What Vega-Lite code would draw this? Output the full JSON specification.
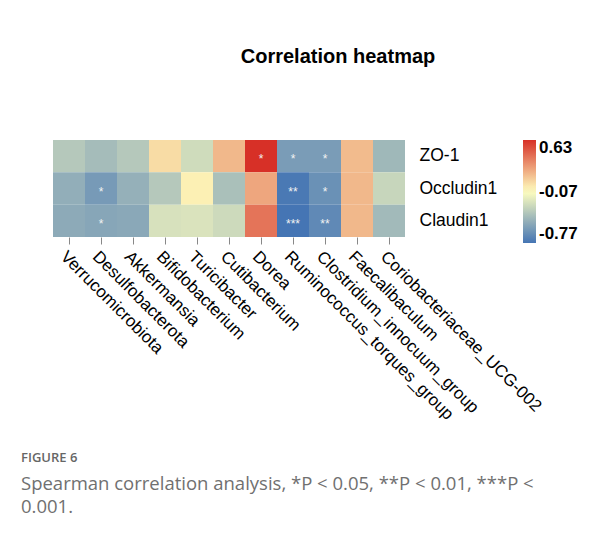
{
  "$schema": "https://vega.github.io/schema/vega-lite/v6.json",
  "background": "white",
  "padding": {"left": 21, "top": 47, "right": 5, "bottom": 5},
  "title": {
    "text": "FIGURE 6",
    "subtitle": ["Spearman correlation analysis, *P < 0.05, **P < 0.01, ***P <", "0.001."],
    "orient": "bottom",
    "anchor": "start",
    "frame": "bounds",
    "font": "Open Sans",
    "fontSize": 13,
    "fontWeight": 600,
    "color": "#666666",
    "subtitleFont": "Open Sans",
    "subtitleFontSize": 18.5,
    "subtitleColor": "#707070",
    "subtitleLineHeight": 23,
    "subtitlePadding": 10,
    "offset": 30,
    "dx": -32
  },
  "datasets": {
    "cor": [
      {"taxon": "Verrucomicrobiota", "gene": "ZO-1", "r": -0.35, "sig": ""},
      {"taxon": "Verrucomicrobiota", "gene": "Occludin1", "r": -0.48, "sig": ""},
      {"taxon": "Verrucomicrobiota", "gene": "Claudin1", "r": -0.50, "sig": ""},
      {"taxon": "Desulfobacterota", "gene": "ZO-1", "r": -0.41, "sig": ""},
      {"taxon": "Desulfobacterota", "gene": "Occludin1", "r": -0.58, "sig": "*"},
      {"taxon": "Desulfobacterota", "gene": "Claudin1", "r": -0.52, "sig": "*"},
      {"taxon": "Akkermansia", "gene": "ZO-1", "r": -0.35, "sig": ""},
      {"taxon": "Akkermansia", "gene": "Occludin1", "r": -0.47, "sig": ""},
      {"taxon": "Akkermansia", "gene": "Claudin1", "r": -0.51, "sig": ""},
      {"taxon": "Bifidobacterium", "gene": "ZO-1", "r": 0.05, "sig": ""},
      {"taxon": "Bifidobacterium", "gene": "Occludin1", "r": -0.35, "sig": ""},
      {"taxon": "Bifidobacterium", "gene": "Claudin1", "r": -0.22, "sig": ""},
      {"taxon": "Turicibacter", "gene": "ZO-1", "r": -0.25, "sig": ""},
      {"taxon": "Turicibacter", "gene": "Occludin1", "r": -0.02, "sig": ""},
      {"taxon": "Turicibacter", "gene": "Claudin1", "r": -0.21, "sig": ""},
      {"taxon": "Cutibacterium", "gene": "ZO-1", "r": 0.17, "sig": ""},
      {"taxon": "Cutibacterium", "gene": "Occludin1", "r": -0.39, "sig": ""},
      {"taxon": "Cutibacterium", "gene": "Claudin1", "r": -0.26, "sig": ""},
      {"taxon": "Dorea", "gene": "ZO-1", "r": 0.63, "sig": "*"},
      {"taxon": "Dorea", "gene": "Occludin1", "r": 0.23, "sig": ""},
      {"taxon": "Dorea", "gene": "Claudin1", "r": 0.40, "sig": ""},
      {"taxon": "Ruminococcus_torques_group", "gene": "ZO-1", "r": -0.57, "sig": "*"},
      {"taxon": "Ruminococcus_torques_group", "gene": "Occludin1", "r": -0.75, "sig": "**"},
      {"taxon": "Ruminococcus_torques_group", "gene": "Claudin1", "r": -0.77, "sig": "***"},
      {"taxon": "Clostridium_innocuum_group", "gene": "ZO-1", "r": -0.57, "sig": "*"},
      {"taxon": "Clostridium_innocuum_group", "gene": "Occludin1", "r": -0.63, "sig": "*"},
      {"taxon": "Clostridium_innocuum_group", "gene": "Claudin1", "r": -0.67, "sig": "**"},
      {"taxon": "Faecalibaculum", "gene": "ZO-1", "r": 0.16, "sig": ""},
      {"taxon": "Faecalibaculum", "gene": "Occludin1", "r": 0.17, "sig": ""},
      {"taxon": "Faecalibaculum", "gene": "Claudin1", "r": 0.17, "sig": ""},
      {"taxon": "Coriobacteriaceae_UCG-002", "gene": "ZO-1", "r": -0.43, "sig": ""},
      {"taxon": "Coriobacteriaceae_UCG-002", "gene": "Occludin1", "r": -0.28, "sig": ""},
      {"taxon": "Coriobacteriaceae_UCG-002", "gene": "Claudin1", "r": -0.42, "sig": ""}
    ]
  },
  "vconcat": [
    {
      "width": 352,
      "height": 97,
      "title": {
        "text": "Correlation heatmap",
        "font": "Liberation Sans",
        "fontSize": 20,
        "fontWeight": "bold",
        "color": "black",
        "anchor": "middle",
        "frame": "group",
        "dx": 109,
        "offset": 73
      },
      "data": {"name": "cor"},
      "encoding": {
        "x": {
          "field": "taxon",
          "type": "nominal",
          "sort": ["Verrucomicrobiota", "Desulfobacterota", "Akkermansia", "Bifidobacterium", "Turicibacter", "Cutibacterium", "Dorea", "Ruminococcus_torques_group", "Clostridium_innocuum_group", "Faecalibaculum", "Coriobacteriaceae_UCG-002"],
          "axis": {
            "orient": "bottom",
            "title": null,
            "labelAngle": 45,
            "labelAlign": "left",
            "labelBaseline": "top",
            "labelFont": "Liberation Sans",
            "labelFontSize": 17,
            "labelColor": "black",
            "labelLimit": 0,
            "labelOverlap": false,
            "labelPadding": 4,
            "tickColor": "#888888",
            "tickSize": 7,
            "domain": false
          }
        },
        "y": {
          "field": "gene",
          "type": "nominal",
          "sort": ["ZO-1", "Occludin1", "Claudin1"],
          "axis": {
            "orient": "right",
            "title": null,
            "ticks": false,
            "domain": false,
            "labelPadding": 14,
            "labelFont": "Liberation Sans",
            "labelFontSize": 17.5,
            "labelColor": "black"
          }
        }
      },
      "layer": [
        {
          "mark": {"type": "rect"},
          "encoding": {
            "color": {
              "field": "r",
              "type": "quantitative",
              "scale": {
                "domain": [-0.77, -0.07, 0.63],
                "range": ["#4575b4", "#ffffbf", "#d73027"],
                "interpolate": "rgb"
              },
              "legend": {
                "orient": "none",
                "legendX": 470,
                "legendY": 0,
                "title": null,
                "values": [-0.77, -0.07, 0.63],
                "labelExpr": "replace(format(datum.value, '.2f'), '\u2212', '-')",
                "gradientLength": 103,
                "gradientThickness": 13,
                "gradientStrokeWidth": 0,
                "labelFont": "Liberation Sans",
                "labelFontSize": 17,
                "labelFontWeight": "bold",
                "labelColor": "black",
                "labelOffset": 3
              }
            }
          }
        },
        {
          "mark": {"type": "text", "color": "#f2f2f2", "font": "Liberation Sans", "fontSize": 12, "baseline": "middle", "dy": 3},
          "encoding": {"text": {"field": "sig", "type": "nominal"}}
        }
      ]
    }
  ],
  "config": {
    "view": {"stroke": null},
    "scale": {"bandPaddingInner": 0}
  }
}
